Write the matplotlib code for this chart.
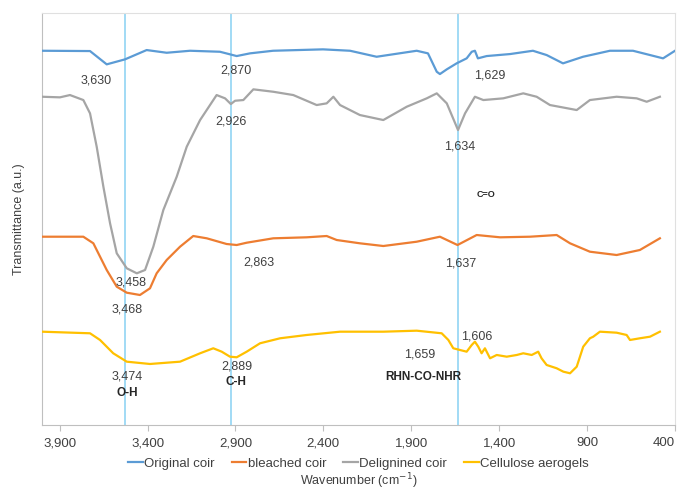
import matplotlib.pyplot as plt

plt.rcParams['font.family'] = ['Liberation Sans', 'DejaVu Sans']

# FTIR spectra, offset vertically (arbitrary transmittance units)
orig_wn = [4000, 3727, 3632, 3528, 3405, 3291, 3158, 2988, 2893, 2817, 2686, 2402, 2248,
           2097, 1869, 1805, 1755, 1737, 1698, 1642, 1585, 1556, 1538, 1521, 1471, 1338,
           1208, 1130, 1037, 923, 770, 639, 542, 468, 400]
orig_t = [374.3, 374, 360.7, 365.7, 375, 372.3, 374.3, 373.3, 369, 371.7, 374.3, 375.7, 374.3,
          368.3, 374.3, 371.7, 353.3, 351, 355.7, 361.7, 366.7, 373.3, 374.3, 366.7, 369, 371,
          374.3, 370, 361.7, 368.3, 374.3, 374.3, 370, 366.7, 374.3]

delig_wn = [4000, 3898, 3841, 3765, 3727, 3689, 3651, 3613, 3575, 3518, 3461, 3414, 3367,
            3310, 3234, 3177, 3101, 3007, 2959, 2926, 2902, 2855, 2798, 2685, 2571, 2438,
            2381, 2343, 2305, 2192, 2059, 1926, 1812, 1755, 1698, 1634, 1594, 1538, 1490,
            1377, 1263, 1187, 1111, 959, 884, 732, 618, 561, 486]
delig_t = [328.3, 327.7, 330, 325, 311.7, 278.3, 238.3, 201.7, 171.7, 156.7, 151.7, 155, 178.3,
           215, 248.3, 278.3, 305, 330, 326.7, 321, 324.3, 325, 335.7, 333.3, 330, 320,
           321.7, 328.3, 320, 310, 305, 318.3, 326.7, 331.7, 321.7, 295, 311.7, 328.3, 325,
           326.7, 331.7, 328.3, 320, 315, 325, 328.3, 326.7, 323.3, 328.3]

bleach_wn = [4000, 3765, 3708, 3632, 3575, 3518, 3443, 3386, 3348, 3291, 3215, 3140, 3063,
             2950, 2893, 2836, 2685, 2495, 2381, 2324, 2192, 2059, 1869, 1737, 1637, 1528,
             1395, 1225, 1073, 997, 884, 732, 600, 486]
bleach_t = [188.3, 188.3, 181.7, 155, 138.3, 132.3, 130, 136.7, 151.7, 165, 178.3, 189, 186.7,
            181, 180, 182.3, 186.7, 187.7, 189, 185, 181.7, 179, 183.3, 188.3, 180, 190,
            187.7, 188.3, 190, 181.7, 173.3, 170, 175, 186.7]

aero_wn = [4000, 3727, 3670, 3595, 3518, 3386, 3215, 3101, 3026, 2978, 2931, 2893, 2836,
           2760, 2646, 2495, 2305, 2059, 1869, 1727, 1689, 1661, 1623, 1585, 1556, 1538,
           1519, 1500, 1481, 1452, 1414, 1357, 1300, 1263, 1215, 1178, 1159, 1130, 1073,
           1035, 997, 959, 922, 884, 865, 827, 732, 675, 656, 600, 542, 486]
aero_t = [93.3, 91.7, 85, 71.7, 63.3, 61, 63.3, 71.7, 76.7, 73.3, 68.3, 67.7, 73.3,
          81.7, 86.7, 90, 93.3, 93.3, 94.3, 91.7, 85, 76.7, 75, 73.3, 80, 83.3,
          78.3, 71.7, 76.7, 66.7, 70, 68.3, 70, 71.7, 70, 73.3, 66.7, 60, 56.7,
          53.3, 51.7, 58.3, 78.3, 86.7, 88.3, 93.3, 92.3, 90, 85, 86.7, 88.3, 93.3]

marker_lines = [3530, 2926, 1634]
tick_vals = [3900, 3400, 2900, 2400, 1900, 1400, 900, 400]
tick_labels = ['3,900', '3,400', '2,900', '2,400', '1,900', '1,400', '900', '400']

# peak labels: (text, wavenumber, y)
peak_labels = [('3,630', 3693, 345), ('2,870', 2897, 355), ('1,629', 1452, 350),
               ('2,926', 2925, 304), ('1,634', 1623, 279), ('3,458', 3494, 143),
               ('3,468', 3514, 115), ('2,863', 2766, 163), ('1,637', 1617, 162),
               ('3,474', 3517, 48), ('2,889', 2891, 58), ('1,659', 1853, 70),
               ('1,606', 1529, 88)]
group_labels = [('O-H', 3517, 32), ('C-H', 2897, 43), ('RHN-CO-NHR', 1829, 48),
                ('C=O', 1475, 231)]

fig = plt.figure(figsize=(6.81, 4.93), dpi=100)
ax = fig.add_axes([0.0617, 0.138, 0.9295, 0.8355])

for wn in marker_lines:
    ax.axvline(wn, color='#9ad8f4', lw=1.3, zorder=1)

ax.plot(orig_wn, orig_t, color='#5b9bd5', lw=1.6, label='Original coir', zorder=3)
ax.plot(bleach_wn, bleach_t, color='#ed7d31', lw=1.6, label='bleached coir', zorder=3)
ax.plot(delig_wn, delig_t, color='#a5a5a5', lw=1.6, label='Delignined coir', zorder=3)
ax.plot(aero_wn, aero_t, color='#ffc000', lw=1.6, label='Cellulose aerogels', zorder=3)

for txt, x, y in peak_labels:
    ax.text(x, y, txt, ha='center', va='center', fontsize=9, color='#404040', zorder=4)
for txt, x, y in group_labels:
    fs = 6.5 if txt == 'C=O' else 8.5
    ax.text(x, y, txt, ha='center', va='center', fontsize=fs, color='#262626',
            fontweight='bold', zorder=4)

ax.set_xlim(4000, 400)
ax.set_ylim(0, 412)
ax.set_xticks(tick_vals)
ax.set_xticklabels(tick_labels)
ax.get_xticklabels()[-1].set_horizontalalignment('right')
ax.set_yticks([])
ax.tick_params(axis='x', length=4, color='#bfbfbf', labelsize=9.5, labelcolor='#404040', pad=5)
for side in ['left', 'bottom']:
    ax.spines[side].set_color('#bfbfbf')
for side in ['top', 'right']:
    ax.spines[side].set_color('#e0e0e0')

ax.set_ylabel('Transmittance (a.u.)', fontsize=9, color='#404040', labelpad=12)
ax.set_xlabel('Wavenumber (cm$^{-1}$)', fontsize=9, color='#404040', labelpad=16)

ax.legend(loc='upper center', bbox_to_anchor=(0.5, -0.05), ncol=4, frameon=False,
          fontsize=9.5, handlelength=1.1, handletextpad=0.1, columnspacing=1.3,
          labelcolor='#404040')

plt.savefig('out.png', dpi=100)
